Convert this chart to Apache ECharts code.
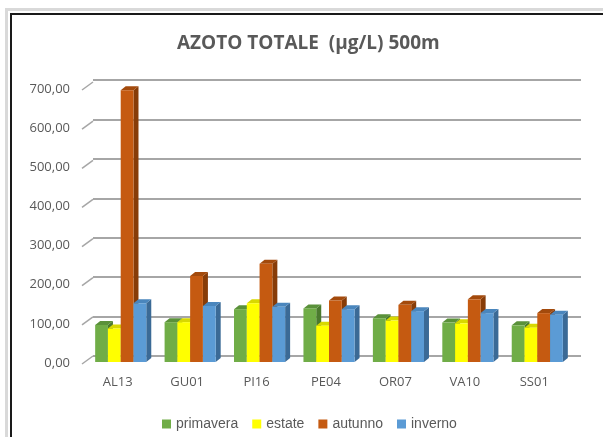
<!DOCTYPE html>
<html><head><meta charset="utf-8">
<script src="https://cdn.jsdelivr.net/npm/echarts@6/dist/echarts.min.js"></script>
<style>html,body{margin:0;padding:0;background:#fff}#c{width:603px;height:437px}</style>
</head><body><div id="c"></div>
<script>
const categories = ['AL13','GU01','PI16','PE04','OR07','VA10','SS01'];
const primavera = [94, 101, 134, 136, 111, 100, 93];
const estate    = [85, 101, 149, 92, 105, 98, 87];
const autunno   = [689, 218, 249, 156, 145, 159, 124];
const inverno   = [149, 142, 140, 134, 129, 124, 120];
const yTicks = [0, 100, 200, 300, 400, 500, 600, 700];
const seriesNames = ['primavera','estate','autunno','inverno'];
const seriesValues = [primavera, estate, autunno, inverno];
const palette = [
  {front:'#70ad47', side:'#4b7a2e', top:'#5a913a'},
  {front:'#ffff00', side:'#c2c200', top:'#d8d800'},
  {front:'#c55a11', side:'#873c08', top:'#a34a0c'},
  {front:'#5b9bd5', side:'#3b6a96', top:'#4a86bd'}
];
const DX = 5, DY = 4;

function barRender(idx){
  return function(params, api){
    const v = api.value(1);
    const top = api.coord([api.value(0), v]);
    const base = api.coord([api.value(0), 0]);
    const band = api.size([1, 0])[0];
    const bw = band * 0.184;
    const x0 = top[0] - 2 * bw + idx * bw;
    const y0 = top[1], y1 = base[1];
    const c = palette[idx];
    return {type:'group', children:[
      {type:'polygon', shape:{points:[[x0+bw,y0],[x0+bw+DX,y0-DY],[x0+bw+DX,y1-DY],[x0+bw,y1]]}, style:{fill:c.side}},
      {type:'polygon', shape:{points:[[x0,y0],[x0+DX,y0-DY],[x0+bw+DX,y0-DY],[x0+bw,y0]]}, style:{fill:c.top}},
      {type:'rect', shape:{x:x0, y:y0, width:bw, height:y1-y0}, style:{fill:c.front}}
    ]};
  };
}

const series = seriesNames.map((n, i) => ({
  name: n, type: 'custom', xAxisIndex: 0, yAxisIndex: 0,
  renderItem: barRender(i),
  itemStyle: {color: palette[i].front},
  encode: {x: 0, y: 1},
  data: seriesValues[i].map((v, k) => [k, v]),
  z: 3
}));
series.push({
  type: 'custom', xAxisIndex: 2, yAxisIndex: 2, silent: true,
  renderItem: function(params, api){
    const p = api.coord([0, api.value(0)]);
    const band = api.size([1, 0])[0];
    const xL = p[0] - band / 2;
    return {type:'line', shape:{x1:xL-1, y1:p[1]+1, x2:xL+10, y2:p[1]-7}, style:{stroke:'#a6a6a6', lineWidth:1.5}};
  },
  encode: {y: 0},
  data: yTicks.map(t => [t]),
  z: 1
});

const fontF = '"Open Sans", sans-serif';
const chart = echarts.init(document.getElementById('c'), null, {renderer:'canvas'});
chart.setOption({
  animation: false,
  title: {text: 'AZOTO TOTALE  (µg/L) 500m', left: 172, top: 29,
    textStyle: {fontFamily: fontF, fontWeight: 'bold', fontSize: 19, color: '#595959'}},
  legend: {data: seriesNames, left: 157, top: 412, icon: 'rect', itemWidth: 9, itemHeight: 9, itemGap: 14,
    textStyle: {fontFamily: '"Liberation Sans", Arial, sans-serif', fontSize: 14, color: '#595959'}},
  graphic: [
    {type:'rect', shape:{x:6.5, y:9.5, width:800, height:600}, style:{fill:'none', stroke:'#d9d9d9', lineWidth:3}, z:-1},
    {type:'rect', shape:{x:11, y:14, width:800, height:600}, style:{fill:'none', stroke:'#1a1a1a', lineWidth:2}, z:-1}
  ],
  grid: [
    {left: 86, top: 86, width: 486, height: 276},
    {left: 93, top: 80, width: 488, height: 276},
    {left: 83, top: 89, width: 486, height: 274}
  ],
  xAxis: [
    {gridIndex: 0, type: 'category', data: categories, show: false},
    {gridIndex: 1, type: 'value', min: 0, max: 1, show: false},
    {gridIndex: 2, type: 'category', data: categories,
      axisLine: {show: false}, axisTick: {show: false},
      axisLabel: {margin: 13, fontFamily: fontF, fontSize: 13, color: '#595959'}}
  ],
  yAxis: [
    {gridIndex: 0, type: 'value', min: 0, max: 700, interval: 100, show: false},
    {gridIndex: 1, type: 'value', min: 0, max: 700, interval: 100,
      axisLine: {show: false}, axisTick: {show: false}, axisLabel: {show: false},
      splitLine: {show: true, lineStyle: {color: '#a6a6a6', width: 2}}},
    {gridIndex: 2, type: 'value', min: 0, max: 700, interval: 100,
      axisLine: {show: false}, axisTick: {show: false}, splitLine: {show: false},
      axisLabel: {margin: 13, fontFamily: fontF, fontSize: 13, color: '#595959',
        formatter: v => v.toFixed(2).replace('.', ',')}}
  ],
  series: series
});
</script></body></html>
